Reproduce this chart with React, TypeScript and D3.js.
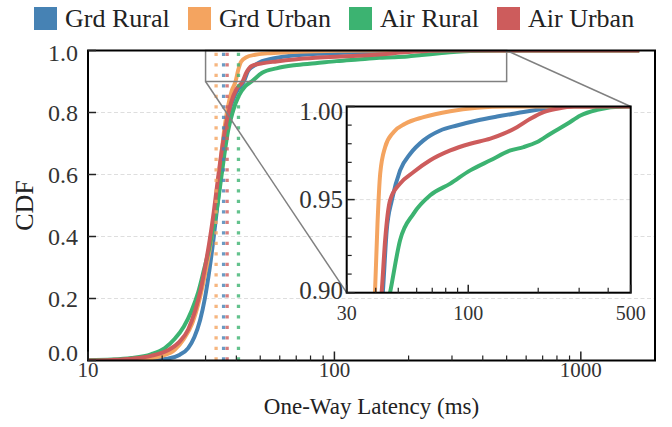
import React from 'react';
import * as d3 from 'd3';

const seriesNames = ['Grd Rural', 'Grd Urban', 'Air Rural', 'Air Urban'];
const seriesColors = ['#4682b4', '#f4a460', '#3cb371', '#cd5c5c'];

const grdRuralLatency = [10, 17, 21, 23.5, 25.5, 27, 28.5, 29.8, 31.2, 32.4, 33.5, 34.6, 35.8, 37.4, 39.8, 42.9, 44.6, 46.9, 50.9, 56.3, 64.2, 75.8, 89.4, 109, 133, 173, 211, 241, 1726];
const grdRuralCdf = [0, 0.001, 0.006, 0.018, 0.04, 0.075, 0.13, 0.2, 0.3, 0.4, 0.5, 0.6, 0.7, 0.8, 0.862, 0.9, 0.9336, 0.9496, 0.9657, 0.9746, 0.9818, 0.9871, 0.9898, 0.9925, 0.9946, 0.997, 0.9988, 1.0, 1.0];

const grdUrbanLatency = [10, 14, 17, 20, 22.5, 24.5, 26.5, 28.2, 29.7, 31.2, 32.5, 33.6, 34.7, 35.8, 37.0, 38.3, 39.7, 40.7, 41.8, 43.9, 47.7, 53.5, 64.2, 83.7, 109, 147, 1726];
const grdUrbanCdf = [0, 0.001, 0.005, 0.015, 0.035, 0.07, 0.12, 0.19, 0.27, 0.36, 0.46, 0.56, 0.66, 0.75, 0.82, 0.87, 0.9, 0.9371, 0.9639, 0.9782, 0.9862, 0.9907, 0.9943, 0.9975, 0.9993, 1.0, 1.0];

const airRuralLatency = [10, 12.5, 15, 18, 20.5, 22.5, 24.5, 26.3, 28, 29.5, 31, 32.3, 33.5, 34.6, 35.7, 37, 38.6, 41, 43.5, 46.1, 50.9, 58.2, 68.6, 83.7, 102, 124.5, 152, 173, 198, 226, 267, 304, 359, 467, 1726];
const airRuralCdf = [0.001, 0.003, 0.008, 0.02, 0.04, 0.07, 0.11, 0.16, 0.22, 0.29, 0.36, 0.43, 0.5, 0.58, 0.66, 0.74, 0.8, 0.855, 0.885, 0.9, 0.9282, 0.9425, 0.9523, 0.9586, 0.9657, 0.9711, 0.9764, 0.9782, 0.9809, 0.9854, 0.9907, 0.9952, 0.9982, 1.0, 1.0];

const airUrbanLatency = [10, 12.5, 15, 18, 21, 23.5, 25.5, 27.2, 28.7, 30, 31.2, 32.4, 33.6, 34.8, 36.3, 38, 40, 42.4, 43.9, 46.1, 50.9, 58.2, 68.6, 83.7, 102, 124.5, 142, 162, 185, 211, 241, 285, 1726];
const airUrbanCdf = [0, 0.002, 0.006, 0.015, 0.032, 0.06, 0.1, 0.16, 0.23, 0.31, 0.39, 0.48, 0.58, 0.67, 0.76, 0.83, 0.875, 0.9, 0.9282, 0.9496, 0.9586, 0.9648, 0.9711, 0.9764, 0.98, 0.9827, 0.9854, 0.9889, 0.9934, 0.997, 0.9988, 1.0, 1.0];

const meanLatency = [35.5, 33.1, 40.8, 36.7];

const yTickValues = [0, 0.2, 0.4, 0.6, 0.8, 1.0];
const yTickLabels = ['0.0', '0.2', '0.4', '0.6', '0.8', '1.0'];
const xTickValues = [10, 100, 1000];
const xMinorValues = [20, 30, 40, 50, 60, 70, 80, 90, 200, 300, 400, 500, 600, 700, 800, 900];
const insetYTickValues = [0.9, 0.95, 1.0];
const insetYTickLabels = ['0.90', '0.95', '1.00'];
const insetYMinorValues = [0.91, 0.92, 0.93, 0.94, 0.96, 0.97, 0.98, 0.99];
const insetXTickValues = [30, 100, 500];
const insetXMinorValues = [40, 50, 60, 70, 80, 90, 200, 300, 400];

const FONT = '"Liberation Serif", "Times New Roman", serif';

export default function App() {
  const series = [
    { lat: grdRuralLatency, cdf: grdRuralCdf },
    { lat: grdUrbanLatency, cdf: grdUrbanCdf },
    { lat: airRuralLatency, cdf: airRuralCdf },
    { lat: airUrbanLatency, cdf: airUrbanCdf },
  ];

  const L = 88, R = 655, T = 50.5, B = 360.5;
  const x = d3.scaleLog().domain([10, 2000]).range([L, R]);
  const y = d3.scaleLinear().domain([0, 1]).range([B, T]);

  const iL = 346.7, iR = 630.7, iT = 106.5, iB = 292.7;
  const xi = d3.scaleLog().domain([30, 500]).range([iL, iR]);
  const yi = d3.scaleLinear().domain([0.9, 1.0]).range([iB, iT]);

  const mainLine = (s) =>
    d3.line().x((d) => x(d[0])).y((d) => y(d[1])).curve(d3.curveMonotoneX)(s.lat.map((v, i) => [v, s.cdf[i]]));
  const insetLine = (s) =>
    d3.line().x((d) => xi(d[0])).y((d) => yi(d[1])).curve(d3.curveMonotoneX)(s.lat.map((v, i) => [v, s.cdf[i]]));

  const legendX = [34, 188, 349, 497];

  return (
    <svg width={672} height={427} style={{ position: 'absolute', left: 0, top: 0, background: '#fff' }} fontFamily={FONT}>
      <defs>
        <clipPath id="mainClip"><rect x={L} y={T} width={R - L} height={B - T} /></clipPath>
        <clipPath id="insetClip"><rect x={iL} y={iT} width={iR - iL} height={iB - iT} /></clipPath>
      </defs>
      <rect x={0} y={0} width={672} height={427} fill="#fff" />

      {/* legend */}
      {seriesNames.map((n, i) => (
        <g key={n}>
          <rect x={legendX[i]} y={7} width={23} height={23} fill={seriesColors[i]} />
          <text x={legendX[i] + 31} y={27} fontSize={26} fill="#222">{n}</text>
        </g>
      ))}

      {/* grid */}
      {yTickValues.map((v) => (
        <line key={v} x1={L} x2={R} y1={y(v)} y2={y(v)} stroke="#dedede" strokeWidth={1} strokeDasharray="4,2.5" />
      ))}

      <g clipPath="url(#mainClip)">
        {series.map((s, i) => (
          <path key={i} d={mainLine(s)} fill="none" stroke={seriesColors[i]} strokeWidth={4} strokeLinejoin="round" />
        ))}
        {meanLatency.map((m, i) => (
          <line key={i} x1={x(m)} x2={x(m)} y1={B} y2={T} stroke={seriesColors[i]} strokeOpacity={0.8} strokeWidth={3.3} strokeDasharray="3.3,7.2" />
        ))}
      </g>

      {/* zoom rectangle and connectors */}
      <rect x={x(30)} y={y(1)} width={x(500) - x(30)} height={y(0.9) - y(1)} fill="none" stroke="#808080" strokeWidth={1.5} />
      <line x1={x(30)} y1={y(0.9)} x2={iL} y2={iB} stroke="#808080" strokeWidth={1.5} />
      <line x1={x(500)} y1={y(1)} x2={iR} y2={iT} stroke="#808080" strokeWidth={1.5} />

      {/* main spines */}
      <rect x={L} y={T} width={R - L} height={B - T} fill="none" stroke="#000" strokeWidth={2} />

      {/* main ticks */}
      {yTickValues.map((v) => (
        <line key={v} x1={L} x2={L + 8} y1={y(v)} y2={y(v)} stroke="#222" strokeWidth={1.5} />
      ))}
      {xTickValues.map((v) => (
        <line key={v} x1={x(v)} x2={x(v)} y1={B} y2={B - 9} stroke="#222" strokeWidth={1.5} />
      ))}
      {xMinorValues.map((v) => (
        <line key={v} x1={x(v)} x2={x(v)} y1={B} y2={B - 5} stroke="#222" strokeWidth={1.2} />
      ))}

      {yTickValues.map((v, i) => (
        <text key={v} x={78} y={y(v) + (v === 0 ? -8 : v === 1 ? 2 : 0)} fontSize={24} textAnchor="end" dominantBaseline="central" fill="#333">
          {yTickLabels[i]}
        </text>
      ))}
      {xTickValues.map((v) => (
        <text key={v} x={x(v)} y={377} fontSize={21} textAnchor="middle" fill="#333">{String(v)}</text>
      ))}

      <text x={(L + R) / 2} y={414} fontSize={23} textAnchor="middle" fill="#222">One-Way Latency (ms)</text>
      <text transform={`translate(33,${(T + B) / 2}) rotate(-90)`} fontSize={26} textAnchor="middle" fill="#222">CDF</text>

      {/* inset */}
      <rect x={iL} y={iT} width={iR - iL} height={iB - iT} fill="#fff" />
      {insetYTickValues.map((v) => (
        <line key={v} x1={iL} x2={iR} y1={yi(v)} y2={yi(v)} stroke="#dedede" strokeWidth={1} strokeDasharray="4,2.5" />
      ))}
      <g clipPath="url(#insetClip)">
        {series.map((s, i) => (
          <path key={i} d={insetLine(s)} fill="none" stroke={seriesColors[i]} strokeWidth={4} strokeLinejoin="round" />
        ))}
      </g>
      <rect x={iL} y={iT} width={iR - iL} height={iB - iT} fill="none" stroke="#000" strokeWidth={2} />
      {insetYTickValues.map((v) => (
        <line key={v} x1={iL} x2={iL + 8} y1={yi(v)} y2={yi(v)} stroke="#222" strokeWidth={1.5} />
      ))}
      {insetYMinorValues.map((v) => (
        <line key={v} x1={iL} x2={iL + 5} y1={yi(v)} y2={yi(v)} stroke="#222" strokeWidth={1.2} />
      ))}
      {insetXTickValues.map((v) => (
        <line key={v} x1={xi(v)} x2={xi(v)} y1={iB} y2={iB - 8} stroke="#222" strokeWidth={1.5} />
      ))}
      {insetXMinorValues.map((v) => (
        <line key={v} x1={xi(v)} x2={xi(v)} y1={iB} y2={iB - 5} stroke="#222" strokeWidth={1.2} />
      ))}
      {insetYTickLabels.map((lab, i) => (
        <text key={lab} x={343} y={yi(insetYTickValues[i]) + (i === 2 ? 5 : i === 0 ? -2 : 0)} fontSize={25} textAnchor="end" dominantBaseline="central" fill="#333">
          {lab}
        </text>
      ))}
      {insetXTickValues.map((v) => (
        <text key={v} x={xi(v)} y={320} fontSize={20} textAnchor="middle" fill="#333">{String(v)}</text>
      ))}
    </svg>
  );
}
